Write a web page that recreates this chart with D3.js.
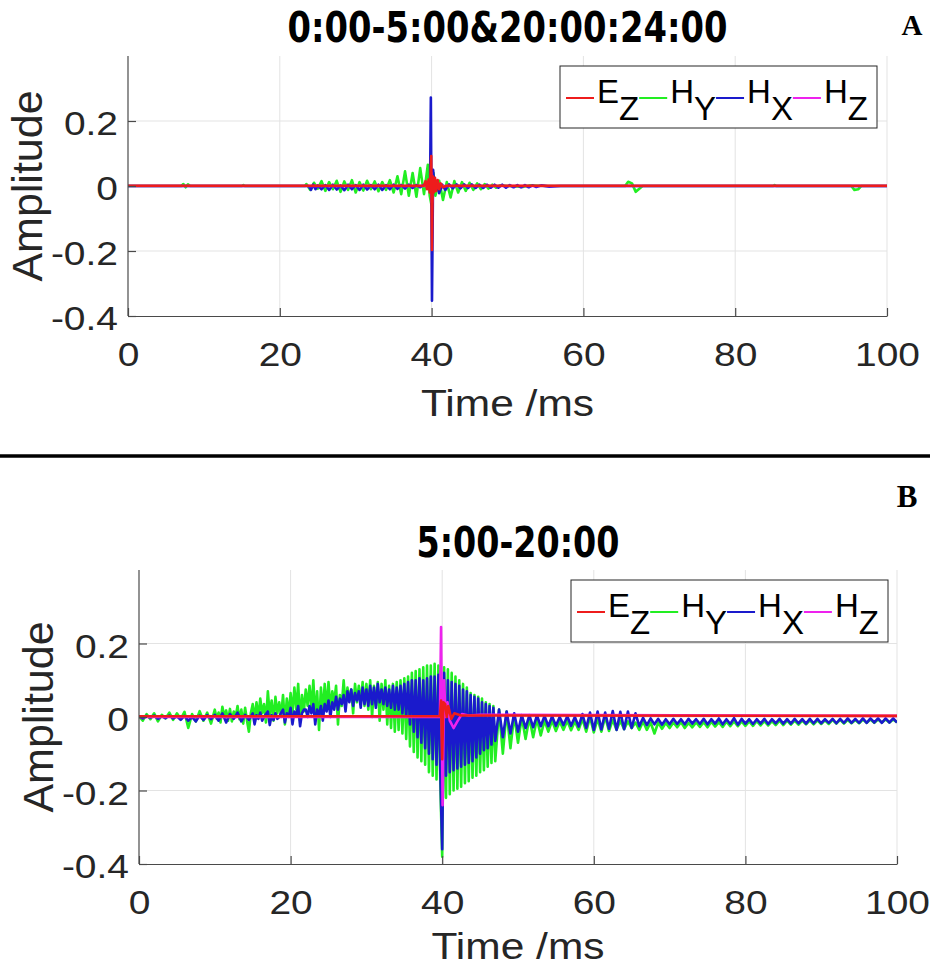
<!DOCTYPE html>
<html>
<head>
<meta charset="utf-8">
<script src="https://cdn.jsdelivr.net/npm/d3@7"></script>
<style>
  body { margin: 0; background: #fff; }
  svg { display: block; }
</style>
</head>
<body>
<div id="chart"></div>
<script>
// Two stacked MATLAB-style panels: field components vs time around a pulse at 40 ms
const W = 930, H = 969;

// one run of samples, starting at t0, one value every dt ms
function run(t0, dt, vals) { return vals.map((v, i) => [+(t0 + i * dt).toFixed(3), v]); }

const legendLabels = [["E", "Z"], ["H", "Y"], ["H", "X"], ["H", "Z"]];
const xTicks = [0, 20, 40, 60, 80, 100];
const yTicks = [-0.4, -0.2, 0, 0.2];
const titles = ["0:00-5:00&20:00:24:00", "5:00-20:00"];
const panelLetters = ["A", "B"];

// ---- panel A (night) ----
const aEz = [[0, 0.001], [39.0, 0.001], [39.2, 0.015], [39.4, -0.01], [39.6, 0.02], [39.75, -0.02],
  [39.95, 0.092], [40.05, -0.197], [40.15, 0.03], [40.3, -0.02], [40.45, 0.025], [40.6, -0.015],
  [40.8, 0.018], [41.0, -0.01], [41.2, 0.008], [41.5, -0.004], [42, 0.001], [100, 0.001]];

const aHy = [[0, 0], [7.0, 0], [7.3, 0.006], [7.6, -0.004], [7.9, 0.005], [8.2, 0], [15.0, 0], [15.2, 0.003],
  [15.4, 0], [23.3, 0],
  ...run(23.5, 0.5, [0.006, -0.012, 0.01, -0.008, 0.015, -0.015, 0.012, -0.01, 0.016, -0.018]),
  ...run(28.5, 0.5, [0.014, -0.012, 0.018, -0.02, 0.012, -0.014, 0.016, -0.01, 0.014, -0.016]),
  ...run(33.5, 0.5, [0.012, -0.012, 0.018, -0.02, 0.03, -0.025, 0.045, -0.03, 0.04, -0.033]),
  ...run(38.5, 0.5, [0.055, -0.025, 0.065]),
  [39.75, -0.03], [40.0, -0.06], [40.25, 0.04],
  ...run(40.5, 0.5, [-0.03, 0.016, -0.043, 0.012, -0.035, 0.015, -0.02, 0.012, -0.015, 0.01]),
  ...run(45.5, 0.5, [-0.012, 0.008, -0.01, 0.006, -0.008, 0.004, -0.005, 0.002]),
  [50, 0], [52, -0.003], [53, 0.002], [55, 0], [65.5, 0], [65.9, 0.013], [66.4, 0.008], [66.9, -0.018],
  [67.4, -0.008], [67.8, 0], [85, 0], [85.2, 0.003], [85.4, 0], [95.3, 0], [95.7, -0.012], [96.2, -0.01],
  [96.6, 0], [100, 0]];

const aHx = [[0, 0], [23.8, 0], [24.1, -0.012], [24.4, 0.004], [24.7, -0.01], [25, 0.002],
  ...run(25.5, 0.5, [-0.01, 0.003, -0.012, 0.004, -0.011, 0.002, -0.013, 0.004, -0.01, 0.003]),
  ...run(30.5, 0.5, [-0.012, 0.004, -0.011, 0.003, -0.01, 0.004, -0.012, 0.003, -0.01, 0.004]),
  ...run(35.5, 0.5, [-0.009, 0.003, -0.008, 0.004, -0.006, 0.003, -0.004, 0.004, -0.002]),
  [39.8, 0.005], [39.9, 0.272], [40.05, -0.353], [40.2, 0.05], [40.4, -0.01], [40.7, 0.01], [41, -0.022],
  [41.4, 0.004], [41.8, -0.012],
  ...run(42.3, 0.5, [0.005, -0.007, 0.005, -0.007, 0.005, -0.006, 0.005, -0.006, 0.004, -0.006]),
  ...run(47.3, 0.5, [0.004, -0.005, 0.004, -0.005, 0.004, -0.005, 0.003, -0.004, 0.003, -0.004]),
  ...run(52.3, 0.5, [0.003, -0.004, 0.002, -0.003]),
  [54.5, 0.002], [55.5, -0.002], [57, 0], [100, 0]];

const aHz = [[0, 0], [39.8, 0], [39.95, 0.04], [40.05, -0.05], [40.2, 0.02], [40.4, 0], [100, 0]];

// ---- panel B (day) ----
const bEz = [[0, 0.002], [39.7, 0.002], [39.85, 0.045], [40.0, -0.115], [40.15, 0.04], [40.4, 0.035],
  [40.6, 0.0], [40.8, 0.03], [41.2, -0.005], [41.6, 0.01], [42.5, 0.004], [100, 0.003]];

const bHy = [
  ...run(0, 0.5, [0.002, -0.01, 0.008, -0.006, 0.01, -0.012, 0.006, -0.004, 0.012, -0.008]),
  ...run(5, 0.5, [0.01, -0.006, 0.014, -0.03, 0.008, -0.012, 0.016, -0.01, 0.012, -0.018]),
  ...run(10, 0.25, [0.02, -0.005, 0.012, -0.015, 0.028, 0.002, 0.018, -0.01, 0.022, -0.012,
                    0.015, 0.0, 0.03, -0.006, 0.02, -0.018, 0.025, -0.01, -0.04, 0.01]),
  ...run(15, 0.25, [0.035, -0.005, 0.04, 0.0, 0.05, 0.01, 0.035, -0.015, 0.07, 0.005,
                    0.045, -0.01, 0.055, 0.01, 0.04, 0.0, 0.06, -0.02, 0.05, 0.005]),
  ...run(20, 0.25, [0.065, 0.01, 0.08, 0.02, 0.09, -0.01, 0.06, 0.015, 0.075, 0.03,
                    0.085, 0.02, 0.1, 0.0, 0.07, -0.035, 0.08, 0.01, 0.09, 0.02]),
  ...run(25, 0.25, [0.095, 0.02, 0.07, 0.04, 0.085, -0.02, 0.06, 0.03, 0.1, 0.03,
                    0.08, 0.045, 0.075, 0.01, 0.09, 0.04, 0.085, 0.035, 0.095, 0.03]),
  ...run(30, 0.25, [0.09, 0.02, 0.1, 0.0, 0.085, 0.03, 0.095, -0.01, 0.09, 0.02]),
  ...run(32.5, 0.25, [0.1, -0.02, 0.085, -0.03, 0.09, -0.04, 0.095, -0.035, 0.1, -0.045]),
  ...run(35, 0.25, [0.105, -0.06, 0.11, -0.08, 0.12, -0.095, 0.125, -0.11, 0.13, -0.12]),
  ...run(37.5, 0.25, [0.135, -0.13, 0.14, -0.15, 0.14, -0.16, 0.145, -0.17, 0.14, -0.18]),
  ...run(40, 0.25, [-0.38, 0.135, -0.22, 0.13, -0.21, 0.12, -0.2, 0.11, -0.195, 0.1]),
  ...run(42.5, 0.25, [-0.19, 0.09, -0.18, 0.08, -0.175, 0.065, -0.165, 0.06, -0.16, 0.055]),
  ...run(45, 0.25, [-0.15, 0.05, -0.145, 0.04, -0.135, 0.035, -0.125, 0.03]),
  ...run(47, 0.5, [-0.12, 0.02, -0.1, 0.015, -0.085, 0.005, -0.07, 0.0, -0.06, -0.002]),
  ...run(52, 0.5, [-0.055, -0.005, -0.05, -0.01, -0.04, -0.01, -0.038, -0.012, -0.035, -0.01]),
  ...run(57, 0.5, [-0.036, -0.012, -0.035, -0.005, -0.04, 0.0, -0.042, -0.005, -0.04, 0.0]),
  ...run(62, 0.5, [-0.038, -0.008, -0.035, -0.01, -0.033, -0.012, -0.03, -0.015, -0.035, -0.012]),
  ...run(67, 0.5, [-0.035, -0.015, -0.045, -0.015, -0.032, -0.016, -0.03, -0.015, -0.028, -0.014]),
  ...run(72, 0.5, [-0.03, -0.016, -0.028, -0.015, -0.027, -0.014, -0.028, -0.013, -0.026, -0.014]),
  ...run(77, 0.5, [-0.027, -0.013, -0.025, -0.012, -0.025, -0.012, -0.024, -0.012, -0.024, -0.011]),
  ...run(82, 0.5, [-0.023, -0.011, -0.023, -0.011, -0.022, -0.01, -0.022, -0.01, -0.021, -0.01]),
  ...run(87, 0.5, [-0.021, -0.01, -0.02, -0.009, -0.02, -0.009, -0.019, -0.009, -0.019, -0.008]),
  ...run(92, 0.5, [-0.018, -0.008, -0.018, -0.008, -0.017, -0.008, -0.017, -0.007, -0.016, -0.007]),
  ...run(97, 0.5, [-0.016, -0.007, -0.015, -0.007, -0.015, -0.007, -0.014])];

const bHx = [
  ...run(0, 0.5, [0.002, -0.004, 0.003, -0.002, 0.004, -0.005, 0.002, -0.003, 0.004, -0.004]),
  ...run(5, 0.5, [0.002, -0.008, 0.003, -0.01, 0.0, -0.012, 0.004, -0.008, 0.005, -0.006]),
  ...run(10, 0.5, [0.006, -0.01, 0.01, -0.015, 0.008, -0.005, 0.012, -0.012, 0.006, -0.008]),
  ...run(15, 0.25, [0.01, -0.02, 0.005, -0.005, 0.012, -0.01, 0.0, 0.008, 0.015, -0.022,
                    0.005, -0.008, 0.01, -0.005, 0.0, 0.012, 0.02, -0.015, 0.01, 0.0]),
  ...run(20, 0.25, [0.025, -0.02, 0.015, 0.005, 0.03, -0.025, 0.01, 0.02, 0.02, 0.0,
                    0.03, 0.01, 0.035, -0.02, 0.02, 0.005, 0.03, -0.01, 0.035, 0.015]),
  ...run(25, 0.25, [0.045, 0.0, 0.04, 0.02, 0.055, 0.02, 0.05, 0.035, 0.06, 0.015,
                    0.07, 0.04, 0.075, 0.03, 0.065, 0.045, 0.07, 0.025, 0.08, 0.035]),
  ...run(30, 0.25, [0.075, 0.03, 0.085, 0.035, 0.08, 0.025, 0.09, 0.04, 0.075, 0.035]),
  ...run(32.5, 0.25, [0.08, 0.03, 0.075, 0.025, 0.085, 0.02, 0.08, 0.02, 0.085, 0.01]),
  ...run(35, 0.25, [0.09, 0.0, 0.095, -0.02, 0.1, -0.04, 0.1, -0.055, 0.105, -0.07]),
  ...run(37.5, 0.25, [0.1, -0.085, 0.105, -0.1, 0.11, -0.115, 0.11, -0.13, 0.115, -0.15]),
  ...run(40, 0.25, [-0.36, 0.12, -0.16, 0.1, -0.15, 0.095, -0.145, 0.09, -0.14, 0.085]),
  ...run(42.5, 0.25, [-0.135, 0.075, -0.13, 0.07, -0.125, 0.06, -0.12, 0.055, -0.11, 0.05]),
  ...run(45, 0.25, [-0.1, 0.04, -0.09, 0.035, -0.085, 0.03, -0.075, 0.025]),
  ...run(47, 0.5, [-0.065, 0.02, -0.055, 0.015, -0.045, 0.01, -0.04, 0.005, -0.03, 0.005]),
  ...run(52, 0.5, [-0.028, 0.004, -0.025, 0.003, -0.025, 0.002, -0.024, 0.0, -0.022, 0.002]),
  ...run(57, 0.5, [-0.024, 0.0, -0.026, 0.008, -0.03, 0.012, -0.035, 0.015, -0.034, 0.012]),
  ...run(62, 0.5, [-0.032, 0.016, -0.035, 0.014, -0.033, 0.015, -0.03, 0.01, -0.025, -0.002]),
  ...run(67, 0.5, [-0.022, -0.004, -0.02, -0.005, -0.021, -0.006, -0.02, -0.005, -0.019, -0.006]),
  ...run(72, 0.5, [-0.02, -0.005, -0.018, -0.006, -0.019, -0.005, -0.02, -0.006, -0.018, -0.004]),
  ...run(77, 0.5, [-0.02, -0.006, -0.019, -0.003, -0.021, -0.005, -0.018, -0.006, -0.019, -0.006]),
  ...run(82, 0.5, [-0.018, -0.005, -0.019, -0.006, -0.017, -0.005, -0.018, -0.006, -0.018, -0.005]),
  ...run(87, 0.5, [-0.017, -0.006, -0.018, -0.005, -0.017, -0.005, -0.017, -0.006, -0.016, -0.005]),
  ...run(92, 0.5, [-0.017, -0.005, -0.016, -0.004, -0.016, -0.005, -0.016, -0.004, -0.016, -0.004]),
  ...run(97, 0.5, [-0.015, -0.004, -0.016, -0.004, -0.015, -0.004, -0.015])];

const bHz = [[0, 0], [39.7, 0], [39.85, 0.245], [40.05, -0.24], [40.25, 0.1], [40.45, 0.0], [40.7, 0.04],
  [41.0, -0.01], [41.5, -0.03], [42.0, -0.012], [42.6, 0.008], [43.5, 0.004], [45, 0.006], [100, 0.003]];

// ---- layout ----
const colors = {ez: "#ee1c1c", hy: "#22ee22", hx: "#1a1acc", hz: "#ee22ee"};
const legendOrder = ["ez", "hy", "hx", "hz"];
const drawOrder = ["hy", "hx", "hz", "ez"];
const sansFont = "'Liberation Sans', Arial, Helvetica, sans-serif";
const stretchX = 1.18;

const panels = [
  {left: 128, right: 887, top: 56, bottom: 316, titleY: 42, titleW: 440, letterX: 912, letterY: 35, letterSize: 29,
   legX: 560, legY: 66, xlabelY: 416, data: {ez: aEz, hy: aHy, hx: aHx, hz: aHz}},
  {left: 139, right: 897, top: 570, bottom: 864, titleY: 557, titleW: 203, letterX: 907, letterY: 507, letterSize: 31,
   legX: 571, legY: 580, xlabelY: 959, data: {ez: bEz, hy: bHy, hx: bHx, hz: bHz}}
];

const svg = d3.select("#chart").append("svg").attr("width", W).attr("height", H);

function stretch(sel, k) {
  sel.each(function () {
    const len = this.getComputedTextLength();
    d3.select(this).attr("textLength", len * k).attr("lengthAdjust", "spacingAndGlyphs");
  });
}

// MATLAB writes a plain hyphen for negatives
const tickFmt = d => d === 0 ? "0" : d.toFixed(1);

panels.forEach((p, pi) => {
  const x = d3.scaleLinear().domain([0, 100]).range([p.left, p.right]);
  const y = d3.scaleLinear().domain([-0.4, 0.4]).range([p.bottom, p.top]);
  const g = svg.append("g");

  // grid
  g.append("g").selectAll("line").data(xTicks.filter(d => d > 0)).join("line")
    .attr("x1", d => x(d)).attr("x2", d => x(d)).attr("y1", p.top).attr("y2", p.bottom)
    .attr("stroke", "#e3e3e3").attr("stroke-width", 1);
  g.append("g").selectAll("line").data(yTicks.filter(d => d > -0.4)).join("line")
    .attr("x1", p.left).attr("x2", p.right).attr("y1", d => y(d)).attr("y2", d => y(d))
    .attr("stroke", "#e3e3e3").attr("stroke-width", 1);

  // data lines
  const clipId = "clip" + pi;
  g.append("clipPath").attr("id", clipId).append("rect")
    .attr("x", p.left).attr("y", p.top).attr("width", p.right - p.left).attr("height", p.bottom - p.top);
  const line = d3.line().x(d => x(d[0])).y(d => y(d[1]));
  const lines = g.append("g").attr("clip-path", `url(#${clipId})`);
  drawOrder.forEach(k => {
    const pts = p.data[k].slice().sort((a, b) => a[0] - b[0]);
    lines.append("path").datum(pts).attr("fill", "none").attr("stroke", colors[k])
      .attr("stroke-width", 2.6).attr("stroke-linejoin", "round").attr("d", line);
  });

  // axes (MATLAB style: ticks inside, no labels at top)
  const xAxis = g.append("g").attr("transform", `translate(0,${p.bottom})`)
    .call(d3.axisBottom(x).tickValues(xTicks).tickSizeInner(-8).tickSizeOuter(0).tickFormat(d3.format("d")));
  const yAxis = g.append("g").attr("transform", `translate(${p.left},0)`)
    .call(d3.axisLeft(y).tickValues(yTicks).tickSizeInner(-8).tickSizeOuter(0).tickFormat(tickFmt));
  [xAxis, yAxis].forEach(a => {
    a.select(".domain").attr("stroke", "#4a4a4a").attr("stroke-width", 1.2);
    a.selectAll(".tick line").attr("stroke", "#4a4a4a").attr("stroke-width", 1.2);
    a.selectAll(".tick text").attr("fill", "#262626").attr("font-family", sansFont).attr("font-size", 33);
  });
  yAxis.select(".domain").attr("d", `M0,${p.top}V${p.bottom}`);
  xAxis.selectAll(".tick text").attr("y", 50).attr("dy", null);
  yAxis.selectAll(".tick text").attr("x", -10).attr("dy", "0.42em");
  stretch(xAxis.selectAll(".tick text"), stretchX);
  stretch(yAxis.selectAll(".tick text"), stretchX);

  // axis labels
  const xl = g.append("text").attr("x", (p.left + p.right) / 2).attr("y", p.xlabelY)
    .attr("text-anchor", "middle").attr("font-family", sansFont).attr("font-size", 36).attr("fill", "#262626")
    .text("Time /ms");
  stretch(xl, stretchX);
  g.append("text").attr("transform", "rotate(-90)").attr("x", -(p.top + p.bottom) / 2).attr("y", p.left - 86)
    .attr("text-anchor", "middle").attr("font-family", sansFont).attr("font-size", 43).attr("fill", "#262626")
    .text("Amplitude");

  // title and panel letter
  g.append("text").attr("x", (p.left + p.right) / 2).attr("y", p.titleY).attr("text-anchor", "middle")
    .attr("font-family", "'Liberation Sans Narrow', 'DejaVu Sans Condensed', 'Liberation Sans', sans-serif")
    .attr("font-weight", "bold").attr("font-size", 43).attr("fill", "#000")
    .attr("textLength", p.titleW).attr("lengthAdjust", "spacingAndGlyphs")
    .text(titles[pi]);
  g.append("text").attr("x", p.letterX).attr("y", p.letterY).attr("text-anchor", "middle")
    .attr("font-family", "'Liberation Serif', 'Times New Roman', serif").attr("font-weight", "bold")
    .attr("font-size", p.letterSize).attr("fill", "#000").text(panelLetters[pi]);

  // legend: sample line, then the symbol with its subscript dropped to the same size
  const leg = g.append("g").attr("transform", `translate(${p.legX},${p.legY})`);
  leg.append("rect").attr("x", 0).attr("y", 0).attr("width", 317).attr("height", 62)
    .attr("fill", "#fff").attr("stroke", "#262626").attr("stroke-width", 1);
  let cx = 6;
  legendOrder.forEach((k, i) => {
    leg.append("line").attr("x1", cx).attr("x2", cx + 28).attr("y1", 32).attr("y2", 32)
      .attr("stroke", colors[k]).attr("stroke-width", 2);
    const t = leg.append("text").attr("x", cx + 31).attr("y", 37)
      .attr("font-family", sansFont).attr("font-size", 33).attr("fill", "#000");
    t.append("tspan").text(legendLabels[i][0]);
    t.append("tspan").attr("dy", 17).text(legendLabels[i][1]);
    cx = cx + 31 + t.node().getComputedTextLength();
  });
});

// divider between the two panels
svg.append("line").attr("x1", 0).attr("x2", W).attr("y1", 456).attr("y2", 456)
  .attr("stroke", "#000").attr("stroke-width", 3.5);
</script>
</body>
</html>
